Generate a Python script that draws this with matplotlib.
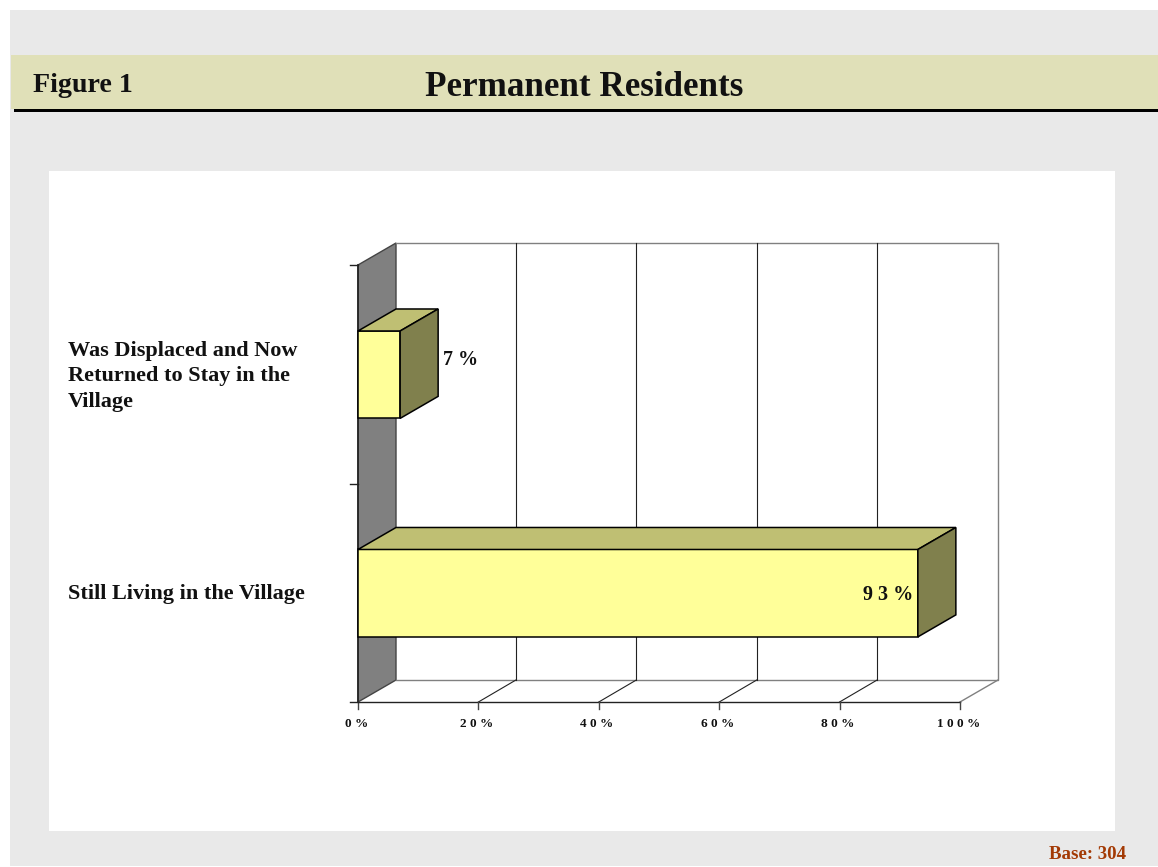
import matplotlib.pyplot as plt
from matplotlib.patches import Polygon, Rectangle

plt.rcParams['font.family'] = ['Liberation Serif', 'DejaVu Serif']
plt.rcParams['font.weight'] = 'bold'

# data
categories = ['Still Living in the Village', 'Was Displaced and Now\nReturned to Stay in the\nVillage']
values = [93, 7]
value_labels = ['9 3 %', '7 %']
x_ticks = [0, 20, 40, 60, 80, 100]
x_tick_labels = ['0 %', '2 0 %', '4 0 %', '6 0 %', '8 0 %', '1 0 0 %']

W, H = 1158, 867
fig = plt.figure(figsize=(W / 100, H / 100), dpi=100, facecolor='white')

# page background, in pixels
bg = fig.add_axes([0, 0, 1, 1])
bg.set_xlim(0, W)
bg.set_ylim(H, 0)
bg.axis('off')
bg.add_patch(Rectangle((10, 10), W - 10, H - 11, fc='#e9e9e9', ec='none'))
bg.add_patch(Rectangle((11, 55), W - 11, 54, fc='#e0e0b8', ec='none'))
bg.add_patch(Rectangle((14, 109), W - 14, 2.5, fc='black', ec='none'))
bg.add_patch(Rectangle((49, 171), 1066, 660, fc='white', ec='none'))
bg.text(33, 86, 'Figure 1', fontsize=20.2, va='center', ha='left', color='#111111')
bg.text(584.5, 87, 'Permanent Residents', fontsize=25.2, va='center', ha='center', color='#111111')
bg.text(1126, 854.4, 'Base: 304', fontsize=13.6, va='center', ha='right', color='#a33a05')

# chart axes: front plane of the fake 3d box
left, right, top, bottom = 358, 960, 265, 702
ax = fig.add_axes([left / W, 1 - bottom / H, (right - left) / W, (bottom - top) / H])
ax.set_xlim(0, 100)
ax.set_ylim(0, 2)
ax.axis('off')
ax.patch.set_alpha(0)

# depth offset of the 3d effect in data units
dx = 38 / (right - left) * 100
dy = 22 / (bottom - top) * 2
grey = '#808080'

# left wall and back wall
ax.add_patch(Polygon([(0, 0), (dx, dy), (dx, 2 + dy), (0, 2)], fc=grey, ec='#444444', lw=1, clip_on=False))
ax.plot([dx, 100 + dx, 100 + dx, dx], [2 + dy, 2 + dy, dy, dy], color=grey, lw=1, clip_on=False)
ax.plot([100, 100 + dx], [0, dy], color=grey, lw=1, clip_on=False)
ax.plot([0, 100], [0, 0], color='#222222', lw=1, clip_on=False)
ax.plot([0, 0], [0, 2], color='#222222', lw=1.2, clip_on=False)

# gridlines
for t in x_ticks[1:-1]:
    ax.plot([t + dx - 0.08, t + dx - 0.08], [dy, 2 + dy], color='#222222', lw=0.8, clip_on=False)
    ax.plot([t, t + dx - 0.08], [0, dy], color='#222222', lw=0.8, clip_on=False)

# ticks
for t, lab in zip(x_ticks, x_tick_labels):
    ax.plot([t, t], [0, -0.03], color='#444444', lw=1, clip_on=False)
    ax.text(t - 0.3, -0.1, lab, fontsize=9.5, ha='center', va='center', color='#111111', clip_on=False)
for y in [0, 1, 2]:
    ax.plot([-1.3, 0], [y, y], color='#222222', lw=1, clip_on=False)

# bars
bar_h = 0.4
shift = -0.002  # bars sit a little low
for i, v in enumerate(values):
    y0 = i + 0.5 - bar_h / 2 + shift
    y1 = i + 0.5 + bar_h / 2 + shift
    ax.add_patch(Rectangle((0, y0), v, bar_h, fc='#ffff99', ec='black', lw=1.1, clip_on=False, zorder=5))
    ax.add_patch(Polygon([(0, y1), (dx, y1 + dy), (v + dx, y1 + dy), (v, y1)],
                         fc='#bfbf73', ec='black', lw=1.1, clip_on=False, zorder=5))
    ax.add_patch(Polygon([(v, y0), (v + dx, y0 + dy), (v + dx, y1 + dy), (v, y1)],
                         fc='#80804d', ec='black', lw=1.1, clip_on=False, zorder=5))

ax.text(-48.2, 0.495, categories[0], fontsize=16, ha='left', va='center', color='#111111', clip_on=False)
ax.text(-48.2, 1.49, categories[1], fontsize=16, ha='left', va='center',
        linespacing=1.39, color='#111111', clip_on=False)

# value labels
ax.text(92.2, 0.49, value_labels[0], fontsize=14.5, ha='right', va='center', color='#111111', zorder=6)
ax.text(14.2, 1.565, value_labels[1], fontsize=14.5, ha='left', va='center', color='#111111', zorder=6)

fig.savefig('out.png', dpi=100)
